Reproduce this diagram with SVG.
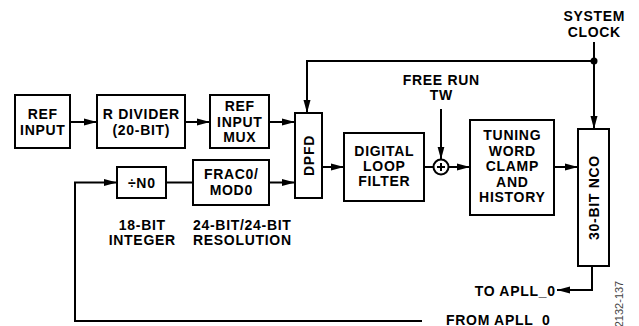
<svg xmlns="http://www.w3.org/2000/svg" width="639" height="326" viewBox="0 0 639 326">
<defs>
<style>
.box{fill:#fff;stroke:#000;stroke-width:2}
.ln{fill:none;stroke:#000;stroke-width:2}
.arr{marker-end:url(#ah)}
text{font-family:"Liberation Sans",Arial,Helvetica,sans-serif;font-weight:bold;font-size:14px;letter-spacing:0.7px;fill:#000;text-anchor:middle}
.note{font-weight:normal;font-size:11px;letter-spacing:0;fill:#444}
</style>
<marker id="ah" viewBox="0 0 13 8" refX="13" refY="4" markerWidth="13" markerHeight="8" markerUnits="userSpaceOnUse" orient="auto">
<path d="M0,0.5 L13,4 L0,7.5 z" fill="#000"/>
</marker>
</defs>
<rect width="639" height="326" fill="#fff"/>
<g id="connectors">
<path class="ln arr" d="M70,122 H97"/>
<path class="ln arr" d="M185,122 H210"/>
<path class="ln arr" d="M269,122 H295"/>
<path class="ln arr" d="M594,42 V129"/>
<path class="ln arr" d="M594,61 H307 V113"/>
<circle cx="594" cy="61" r="3.5" fill="#000"/>
<path class="ln" d="M166,182.5 H193"/>
<path class="ln arr" d="M269,182.5 H295"/>
<path class="ln arr" d="M422,321 H75 V182.5 H117"/>
<path class="ln arr" d="M322,167 H344"/>
<path class="ln" d="M424,167 H433.5"/>
<path class="ln arr" d="M448.5,167 H470"/>
<path class="ln arr" d="M441,109 V159.5"/>
<path class="ln arr" d="M554,167 H578"/>
<path class="ln arr" d="M592,266 V290 H557"/>
</g>
<g id="ref-input"><rect class="box" x="15" y="95" width="55" height="53"/><text x="42.8" y="119">REF</text><text x="42.8" y="135">INPUT</text></g>
<g id="r-divider"><rect class="box" x="97" y="95" width="88" height="53"/><text x="141.3" y="119">R DIVIDER</text><text x="141.3" y="135">(20-BIT)</text></g>
<g id="ref-input-mux"><rect class="box" x="210" y="95" width="59" height="53"/><text x="239.8" y="111">REF</text><text x="239.8" y="127">INPUT</text><text x="239.8" y="142">MUX</text></g>
<g id="dpfd"><rect class="box" x="295" y="113" width="27" height="85"/><text transform="translate(313.5,155.5) rotate(-90)">DPFD</text></g>
<g id="digital-loop-filter"><rect class="box" x="344" y="133" width="80" height="68"/><text x="384.3" y="156">DIGITAL</text><text x="384.3" y="171">LOOP</text><text x="384.3" y="186">FILTER</text></g>
<g id="sum"><circle class="ln" cx="441" cy="167" r="7.5" fill="#fff"/><path class="ln" d="M437,167 H445 M441,163 V171" stroke-width="1.8"/></g>
<g id="free-run-tw"><text x="441.3" y="85">FREE RUN</text><text x="441.3" y="100">TW</text></g>
<g id="tuning-word"><rect class="box" x="470" y="120" width="84" height="95"/><text x="512.3" y="140">TUNING</text><text x="512.3" y="156">WORD</text><text x="512.3" y="171">CLAMP</text><text x="512.3" y="187">AND</text><text x="512.3" y="202">HISTORY</text></g>
<g id="nco"><rect class="box" x="578" y="129" width="31" height="137"/><text transform="translate(598.5,197.5) rotate(-90)">30-BIT NCO</text></g>
<g id="system-clock"><text x="594.3" y="21">SYSTEM</text><text x="594.3" y="37">CLOCK</text></g>
<g id="n0"><rect class="box" x="117" y="167" width="49" height="31"/><text x="141.8" y="187.5">÷N0</text></g>
<g id="frac0"><rect class="box" x="193" y="160" width="76" height="45"/><text x="231.3" y="179">FRAC0/</text><text x="231.3" y="195">MOD0</text></g>
<g id="label-18bit"><text x="142.3" y="230">18-BIT</text><text x="142.3" y="245">INTEGER</text></g>
<g id="label-24bit"><text x="242.3" y="230">24-BIT/24-BIT</text><text x="242.3" y="245">RESOLUTION</text></g>
<g id="to-apll"><text x="555.7" y="296" style="text-anchor:end">TO APLL_0</text></g>
<g id="from-apll"><text x="446" y="324.5" style="text-anchor:start">FROM APLL_0</text></g>
<text class="note" transform="translate(623,304) rotate(-90)">2132-137</text>
</svg>
